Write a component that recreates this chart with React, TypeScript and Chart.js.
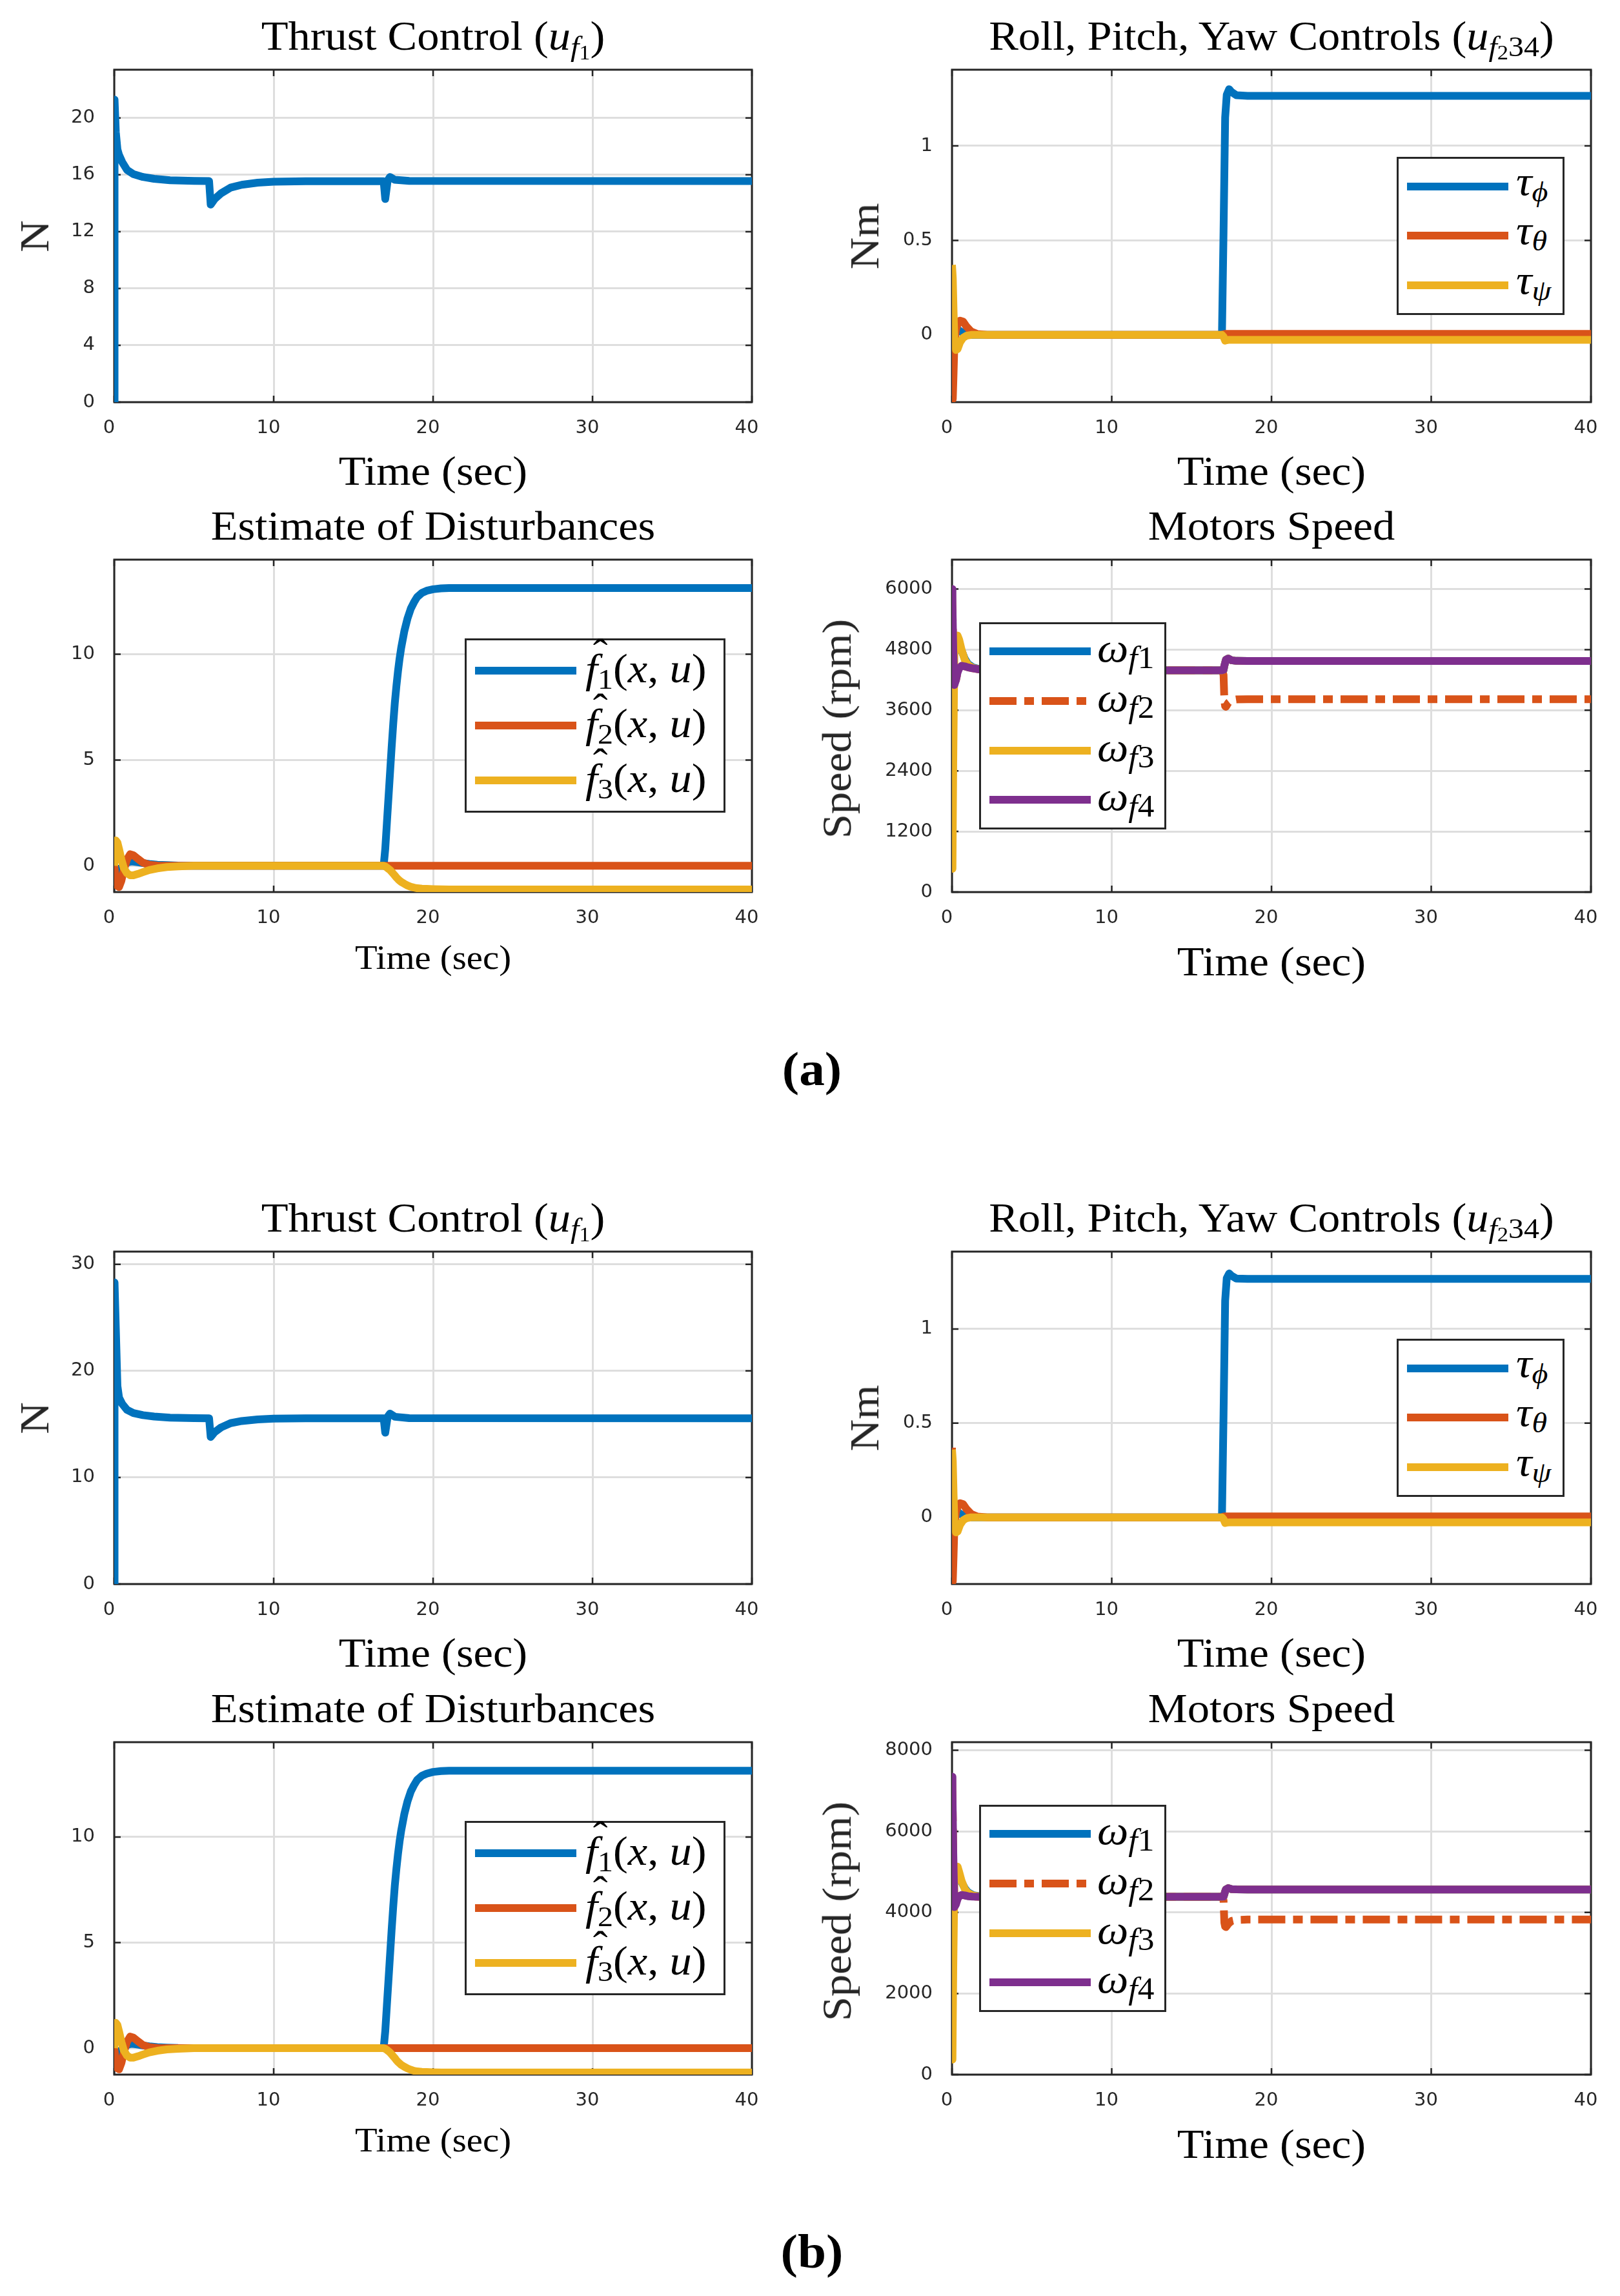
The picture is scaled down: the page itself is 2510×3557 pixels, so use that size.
import React, { useEffect, useRef } from "react";
import { Chart, registerables } from "chart.js";

Chart.register(...registerables);

// ---------- colours / fonts ----------
const BLUE = "#0072BD";
const ORANGE = "#D95319";
const YELLOW = "#EDB120";
const PURPLE = "#7E2F8E";
const AXIS = "#262626";
const GRID = "#dedede";
const SERIF = '"Liberation Serif", "Times New Roman", serif';
const SANS = '"DejaVu Sans", "Liberation Sans", sans-serif';

// ---------- data ----------
const xTicks = [0, 10, 20, 30, 40];

// Thrust control
const tThrust = [0, 0.02, 0.1, 0.2, 0.3, 0.5, 0.8, 1.2, 1.8, 2.5, 3.5, 5, 5.95, 6.05, 6.3, 6.7, 7.3, 8, 9, 10, 12, 16.9, 17.0, 17.15, 17.3, 17.6, 18.5, 40];
const thrustA = [0, 21.3, 19.0, 17.8, 17.4, 16.9, 16.35, 16.05, 15.85, 15.72, 15.62, 15.57, 15.56, 13.9, 14.3, 14.7, 15.1, 15.3, 15.45, 15.52, 15.55, 15.55, 14.3, 15.6, 15.85, 15.65, 15.57, 15.56];
const thrustB = [0, 28.3, 24.0, 18.6, 17.5, 16.9, 16.35, 16.05, 15.85, 15.72, 15.62, 15.57, 15.56, 13.8, 14.25, 14.7, 15.1, 15.3, 15.45, 15.52, 15.55, 15.55, 14.2, 15.7, 16.0, 15.7, 15.57, 15.56];
const thrustTicksA = [0, 4, 8, 12, 16, 20];
const thrustTicksB = [0, 10, 20, 30];

// Roll / pitch / yaw controls
const tTorque = [0, 0.05, 0.1, 0.15, 0.25, 0.35, 0.5, 0.7, 0.9, 1.2, 1.6, 2.2, 3, 16.9, 17.0, 17.1, 17.2, 17.35, 17.5, 17.8, 18.5, 40];
const tauPhiA = [0, 0, 0.01, 0.02, 0.03, 0.03, 0.02, 0.01, 0.005, 0, 0, 0, 0, 0, 0.55, 1.15, 1.27, 1.3, 1.285, 1.268, 1.265, 1.265];
const tauThetaA = [0.3, -0.34, -0.2, -0.05, 0.03, 0.055, 0.075, 0.07, 0.045, 0.018, 0.004, 0, 0, 0, 0.004, 0.005, 0.005, 0.005, 0.005, 0.005, 0.005, 0.005];
const tauPsiA = [0.37, 0.3, 0.12, -0.02, -0.08, -0.075, -0.04, -0.015, -0.005, 0, 0, 0, 0, 0, -0.01, -0.03, -0.028, -0.026, -0.026, -0.026, -0.026, -0.026];
const tauPhiB = [0, 0, 0.01, 0.02, 0.03, 0.03, 0.02, 0.01, 0.005, 0, 0, 0, 0, 0, 0.55, 1.15, 1.27, 1.295, 1.283, 1.268, 1.266, 1.266];
const tauThetaB = [0.37, -0.34, -0.2, -0.05, 0.03, 0.055, 0.075, 0.07, 0.045, 0.018, 0.004, 0, 0, 0, 0.004, 0.005, 0.005, 0.005, 0.005, 0.005, 0.005, 0.005];
const tauPsiB = [0.36, 0.3, 0.12, -0.02, -0.08, -0.075, -0.04, -0.015, -0.005, 0, 0, 0, 0, 0, -0.01, -0.03, -0.028, -0.027, -0.027, -0.027, -0.027, -0.027];
const torqueTicks = [0, 0.5, 1];

// Estimate of disturbances
const tDist = [0, 0.1, 0.2, 0.3, 0.45, 0.6, 0.8, 1.0, 1.2, 1.5, 1.8, 2.2, 2.7, 3.3, 4, 5, 16.9, 17.0, 17.1, 17.2, 17.3, 17.4, 17.5, 17.6, 17.7, 17.8, 17.9, 18.0, 18.2, 18.4, 18.6, 18.8, 19.0, 19.3, 19.6, 20, 20.5, 21, 22, 40];
const f1A = [0, -0.3, -0.45, -0.35, -0.1, 0.05, 0.15, 0.2, 0.2, 0.17, 0.13, 0.09, 0.05, 0.03, 0.01, 0, 0, 0.8, 2.0, 3.2, 4.4, 5.6, 6.7, 7.7, 8.5, 9.2, 9.8, 10.3, 11.1, 11.7, 12.15, 12.45, 12.7, 12.9, 13.0, 13.07, 13.11, 13.13, 13.13, 13.13];
const f2A = [0, -0.6, -0.95, -1.0, -0.7, -0.2, 0.3, 0.55, 0.5, 0.32, 0.15, 0.05, 0.01, 0, 0, 0, 0, 0, 0, 0, 0, 0, 0, 0, 0, 0, 0, 0, 0, 0, 0, 0, 0, 0, 0, 0, 0, 0, 0, 0];
const f3A = [0, 1.2, 1.1, 0.8, 0.3, -0.1, -0.35, -0.45, -0.45, -0.38, -0.3, -0.2, -0.12, -0.06, -0.03, 0, 0, -0.03, -0.08, -0.14, -0.2, -0.28, -0.37, -0.46, -0.55, -0.63, -0.7, -0.76, -0.85, -0.93, -0.99, -1.03, -1.06, -1.08, -1.09, -1.1, -1.11, -1.12, -1.12, -1.12];
const f1B = [0, -0.3, -0.45, -0.35, -0.1, 0.05, 0.15, 0.2, 0.2, 0.17, 0.13, 0.09, 0.05, 0.03, 0.01, 0, 0, 0.8, 2.0, 3.2, 4.4, 5.6, 6.7, 7.7, 8.5, 9.2, 9.8, 10.3, 11.1, 11.7, 12.15, 12.45, 12.7, 12.9, 13.0, 13.08, 13.12, 13.14, 13.14, 13.14];
const f2B = [0, -0.6, -0.95, -1.0, -0.7, -0.2, 0.3, 0.55, 0.5, 0.32, 0.15, 0.05, 0.01, 0, 0, 0, 0, 0, 0, 0, 0, 0, 0, 0, 0, 0, 0, 0, 0, 0, 0, 0, 0, 0, 0, 0, 0, 0, 0, 0];
const f3B = [0, 1.2, 1.1, 0.8, 0.3, -0.1, -0.35, -0.45, -0.45, -0.38, -0.3, -0.2, -0.12, -0.06, -0.03, 0, 0, -0.03, -0.08, -0.14, -0.21, -0.29, -0.38, -0.47, -0.57, -0.65, -0.72, -0.79, -0.88, -0.96, -1.02, -1.07, -1.1, -1.12, -1.13, -1.14, -1.15, -1.15, -1.15, -1.15];
const distTicks = [0, 5, 10];

// Motors speed
const tMotor = [0, 0.03, 0.08, 0.15, 0.25, 0.35, 0.45, 0.6, 0.8, 1.0, 1.3, 1.7, 2.2, 3, 5, 16.9, 17.0, 17.05, 17.1, 17.15, 17.3, 17.5, 17.8, 18.5, 40];
const w1A = [4350, 4500, 4700, 4850, 4950, 4980, 4920, 4780, 4620, 4520, 4450, 4415, 4400, 4395, 4392, 4392, 4400, 4480, 4540, 4600, 4625, 4590, 4578, 4575, 4575];
const w2A = [5900, 5600, 4800, 4150, 4200, 4350, 4430, 4480, 4470, 4450, 4430, 4410, 4400, 4395, 4392, 4392, 4300, 3800, 3680, 3670, 3750, 3800, 3815, 3820, 3820];
const w3A = [4300, 460, 2600, 4700, 5000, 5080, 5000, 4800, 4600, 4500, 4440, 4410, 4400, 4395, 4392, 4392, 4400, 4480, 4540, 4600, 4625, 4590, 4578, 4575, 4575];
const w4A = [6000, 5700, 4800, 4100, 4200, 4350, 4430, 4480, 4470, 4450, 4430, 4410, 4400, 4395, 4392, 4392, 4400, 4480, 4540, 4600, 4625, 4590, 4578, 4575, 4575];
const w1B = [4000, 4300, 4650, 4850, 4950, 4980, 4900, 4750, 4600, 4500, 4430, 4400, 4388, 4385, 4385, 4385, 4390, 4450, 4520, 4570, 4600, 4575, 4568, 4566, 4566];
const w2B = [7350, 6900, 5400, 4150, 4200, 4330, 4400, 4430, 4420, 4400, 4390, 4386, 4385, 4385, 4385, 4385, 4300, 3750, 3650, 3640, 3720, 3790, 3815, 3824, 3824];
const w3B = [4200, 370, 2600, 4700, 5050, 5130, 5000, 4780, 4580, 4480, 4420, 4395, 4387, 4385, 4385, 4385, 4390, 4450, 4520, 4570, 4600, 4575, 4568, 4566, 4566];
const w4B = [7350, 7000, 5500, 4130, 4200, 4330, 4400, 4430, 4420, 4400, 4390, 4386, 4385, 4385, 4385, 4385, 4390, 4450, 4520, 4570, 4600, 4575, 4568, 4566, 4566];
const motorTicksA = [0, 1200, 2400, 3600, 4800, 6000];
const motorTicksB = [0, 2000, 4000, 6000, 8000];

const DASH_DOT = [42, 12, 15, 12];

// ---------- layout ----------
const LX = 177, LW = 988, RX = 1475, RW = 990;
const H1 = 515, H2 = 515;
const A1 = 108, A2 = 867, B1 = 1939, B2 = 2699;
const YW = 170, PT = 70, PR = 80, XH = 80;
const FS = 64;
const SX = 1.07;
const LINE_W = 12;
const TICK_FS = 29;

type Series = { t: number[]; v: number[]; color: string; dash?: number[] };
type PanelSpec = {
  left: number; top: number; w: number; h: number;
  yMin: number; yMax: number; yTicks: number[];
  series: Series[];
};

const boxPlugin = {
  id: "matlabBox",
  beforeDatasetsDraw(chart: any) {
    const { ctx, chartArea: a, scales } = chart;
    const L = 10;
    ctx.save();
    ctx.strokeStyle = AXIS;
    ctx.lineWidth = 2.5;
    ctx.beginPath();
    scales.x.ticks.forEach((tk: any) => {
      const px = scales.x.getPixelForValue(tk.value);
      ctx.moveTo(px, a.bottom); ctx.lineTo(px, a.bottom - L);
      ctx.moveTo(px, a.top); ctx.lineTo(px, a.top + L);
    });
    scales.y.ticks.forEach((tk: any) => {
      const py = scales.y.getPixelForValue(tk.value);
      ctx.moveTo(a.left, py); ctx.lineTo(a.left + L, py);
      ctx.moveTo(a.right, py); ctx.lineTo(a.right - L, py);
    });
    ctx.stroke();
    ctx.lineWidth = 3;
    ctx.strokeRect(a.left, a.top, a.right - a.left, a.bottom - a.top);
    ctx.restore();
  },
};

function PlotPanel({ spec }: { spec: PanelSpec }) {
  const ref = useRef<HTMLCanvasElement | null>(null);
  const W = YW + spec.w + PR;
  const H = PT + spec.h + XH;
  useEffect(() => {
    const n = spec.series.length;
    const chart = new Chart(ref.current as HTMLCanvasElement, {
      type: "line",
      data: {
        datasets: spec.series.map((s, i) => ({
          data: s.t.map((x, j) => ({ x, y: s.v[j] })),
          borderColor: s.color,
          backgroundColor: s.color,
          borderWidth: LINE_W,
          borderDash: s.dash || [],
          borderCapStyle: "butt",
          borderJoinStyle: "round",
          pointRadius: 0,
          tension: 0,
          fill: false,
          order: n - 1 - i,
        })),
      } as any,
      options: {
        responsive: false,
        animation: false,
        events: [],
        layout: { padding: { left: 0, top: PT, right: PR, bottom: 0 } },
        plugins: { legend: { display: false }, tooltip: { enabled: false } },
        scales: {
          x: {
            type: "linear",
            min: 0,
            max: 40,
            afterFit: (s: any) => { s.height = XH; },
            afterBuildTicks: (s: any) => { s.ticks = xTicks.map((v) => ({ value: v })); },
            ticks: {
              font: { family: SANS, size: TICK_FS },
              color: AXIS,
              padding: 23,
              labelOffset: -8,
              maxRotation: 0,
              autoSkip: false,
              callback: (v: any) => String(v),
            },
            grid: { color: GRID, lineWidth: 3, drawTicks: false },
            border: { display: false },
          },
          y: {
            type: "linear",
            min: spec.yMin,
            max: spec.yMax,
            afterFit: (s: any) => { s.width = YW; },
            afterBuildTicks: (s: any) => { s.ticks = spec.yTicks.map((v) => ({ value: v })); },
            ticks: {
              font: { family: SANS, size: TICK_FS },
              color: AXIS,
              padding: 30,
              autoSkip: false,
              callback: (v: any) => String(v),
            },
            grid: { color: GRID, lineWidth: 3, drawTicks: false },
            border: { display: false },
          },
        },
      } as any,
      plugins: [boxPlugin],
    });
    return () => chart.destroy();
  }, []);
  return (
    <canvas
      ref={ref}
      width={W}
      height={H}
      style={{ position: "absolute", left: spec.left - YW, top: spec.top - PT, width: W, height: H }}
    />
  );
}

// ---------- text helpers ----------
function Sub({ children, s = 0.7, d = 0.15 }: any) {
  return <span style={{ fontSize: `${s}em`, position: "relative", top: `${d / s}em` }}>{children}</span>;
}

function Txt({ x, y, size = FS, anchor = "middle", weight = 400, children }: any) {
  return (
    <div
      style={{
        position: "absolute",
        left: x,
        top: y - 0.8375 * size,
        fontFamily: SERIF,
        fontSize: size,
        lineHeight: 1,
        whiteSpace: "nowrap",
        fontWeight: weight,
        color: "#000",
        transformOrigin: anchor === "middle" ? "50% 50%" : "0% 50%",
        transform: anchor === "middle" ? `translateX(-50%) scaleX(${SX})` : `scaleX(${SX})`,
      }}
    >
      {children}
    </div>
  );
}

function VTxt({ x, y, size = FS, children }: any) {
  return (
    <div style={{ position: "absolute", left: x, top: y, width: 0, height: 0, transform: "rotate(-90deg)" }}>
      <div
        style={{
          position: "absolute",
          left: 0,
          top: -0.8375 * size,
          transform: `translateX(-50%) scaleX(${SX})`,
          fontFamily: SERIF,
          fontSize: size,
          lineHeight: 1,
          whiteSpace: "nowrap",
          color: AXIS,
        }}
      >
        {children}
      </div>
    </div>
  );
}

function Hat({ children }: any) {
  return (
    <span style={{ position: "relative" }}>
      <i>{children}</i>
      <span style={{ position: "absolute", left: "0.17em", top: "-0.3em", fontStyle: "normal" }}>ˆ</span>
    </span>
  );
}

type LegendItem = { color: string; dash?: boolean; label: any };

function Legend({ x, y, w, h, x1, x2, tx, rows, baseOff, items }: any) {
  return (
    <>
      <div
        style={{
          position: "absolute",
          left: x,
          top: y,
          width: w,
          height: h,
          boxSizing: "border-box",
          border: `3px solid ${AXIS}`,
          background: "#fff",
        }}
      />
      {items.map((it: LegendItem, i: number) => (
        <React.Fragment key={i}>
          <div
            style={{
              position: "absolute",
              left: x1,
              top: rows[i] - LINE_W / 2,
              width: x2 - x1,
              height: LINE_W,
              background: it.dash
                ? `repeating-linear-gradient(to right, ${it.color} 0px, ${it.color} 42px, transparent 42px, transparent 54px, ${it.color} 54px, ${it.color} 69px, transparent 69px, transparent 81px)`
                : it.color,
            }}
          />
          <Txt x={tx} y={rows[i] + baseOff} anchor="start">{it.label}</Txt>
        </React.Fragment>
      ))}
    </>
  );
}

const titleThrust = (
  <>Thrust Control (<i>u</i><Sub><i>f</i><Sub s={0.72} d={0.12}>1</Sub></Sub>)</>
);
const titleTorque = (
  <>Roll, Pitch, Yaw Controls (<i>u</i><Sub><i>f</i><Sub s={0.72} d={0.12}>2</Sub>34</Sub>)</>
);
const tauItems: LegendItem[] = [
  { color: BLUE, label: <><i>τ</i><Sub><i>ϕ</i></Sub></> },
  { color: ORANGE, label: <><i>τ</i><Sub><i>θ</i></Sub></> },
  { color: YELLOW, label: <><i>τ</i><Sub><i>ψ</i></Sub></> },
];
const fItems: LegendItem[] = [1, 2, 3].map((k, i) => ({
  color: [BLUE, ORANGE, YELLOW][i],
  label: <><Hat>f</Hat><Sub>{k}</Sub>(<i>x</i>, <i>u</i>)</>,
}));
const wItems: LegendItem[] = [1, 2, 3, 4].map((k, i) => ({
  color: [BLUE, ORANGE, YELLOW, PURPLE][i],
  dash: k === 2,
  label: <><i>ω</i><Sub s={0.75}><i>f</i>{String(k)}</Sub></>,
}));

function Figure({ r1, r2, tag, tagY, thrust, thrustMax, thrustTicks, torque, torqueMin, torqueMax, dist, distMin, distMax, motor, motorMax, motorTicks }: any) {
  const panels: PanelSpec[] = [
    { left: LX, top: r1, w: LW, h: H1, yMin: 0, yMax: thrustMax, yTicks: thrustTicks, series: [{ t: tThrust, v: thrust, color: BLUE }] },
    {
      left: RX, top: r1, w: RW, h: H1, yMin: torqueMin, yMax: torqueMax, yTicks: torqueTicks,
      series: [
        { t: tTorque, v: torque[0], color: BLUE },
        { t: tTorque, v: torque[1], color: ORANGE },
        { t: tTorque, v: torque[2], color: YELLOW },
      ],
    },
    {
      left: LX, top: r2, w: LW, h: H2, yMin: distMin, yMax: distMax, yTicks: distTicks,
      series: [
        { t: tDist, v: dist[0], color: BLUE },
        { t: tDist, v: dist[1], color: ORANGE },
        { t: tDist, v: dist[2], color: YELLOW },
      ],
    },
    {
      left: RX, top: r2, w: RW, h: H2, yMin: 0, yMax: motorMax, yTicks: motorTicks,
      series: [
        { t: tMotor, v: motor[0], color: BLUE },
        { t: tMotor, v: motor[1], color: ORANGE, dash: DASH_DOT },
        { t: tMotor, v: motor[2], color: YELLOW },
        { t: tMotor, v: motor[3], color: PURPLE },
      ],
    },
  ];
  const cL = LX + LW / 2;
  const cR = RX + RW / 2;
  return (
    <>
      {panels.map((p, i) => <PlotPanel key={i} spec={p} />)}
      <Txt x={cL} y={r1 - 30}>{titleThrust}</Txt>
      <Txt x={cR} y={r1 - 30}>{titleTorque}</Txt>
      <Txt x={cL} y={r2 - 30}>Estimate of Disturbances</Txt>
      <Txt x={cR} y={r2 - 30}>Motors Speed</Txt>
      <Txt x={cL} y={r1 + H1 + 129}>Time (sec)</Txt>
      <Txt x={cR} y={r1 + H1 + 129}>Time (sec)</Txt>
      <Txt x={cL} y={r2 + H2 + 119} size={53}>Time (sec)</Txt>
      <Txt x={cR} y={r2 + H2 + 130}>Time (sec)</Txt>
      <VTxt x={76} y={r1 + H1 / 2}>N</VTxt>
      <VTxt x={1362} y={r1 + H1 / 2}>Nm</VTxt>
      <VTxt x={1319} y={r2 + 262}>Speed (rpm)</VTxt>
      <Legend
        x={RX + 689} y={r1 + 135} w={260} h={245}
        x1={RX + 705} x2={RX + 862} tx={RX + 874}
        rows={[r1 + 181, r1 + 257, r1 + 334]} baseOff={14} items={tauItems}
      />
      <Legend
        x={LX + 543} y={r2 + 122} w={404} h={270}
        x1={LX + 559} x2={LX + 716} tx={LX + 730}
        rows={[r2 + 172, r2 + 257, r2 + 342]} baseOff={19} items={fItems}
      />
      <Legend
        x={RX + 42} y={r2 + 97} w={290} h={321}
        x1={RX + 58} x2={RX + 215} tx={RX + 225}
        rows={[r2 + 142, r2 + 219, r2 + 296, r2 + 372]} baseOff={17} items={wItems}
      />
      <Txt x={1258} y={tagY} size={74} weight={700}>({tag})</Txt>
    </>
  );
}

export default function App() {
  return (
    <div style={{ position: "absolute", left: 0, top: 0, width: 2510, height: 3557, background: "#fff", overflow: "hidden" }}>
      <Figure
        r1={A1} r2={A2} tag="a" tagY={1681}
        thrust={thrustA} thrustMax={23.4} thrustTicks={thrustTicksA}
        torque={[tauPhiA, tauThetaA, tauPsiA]} torqueMin={-0.356} torqueMax={1.403}
        dist={[f1A, f2A, f3A]} distMin={-1.24} distMax={14.47}
        motor={[w1A, w2A, w3A, w4A]} motorMax={6583} motorTicks={motorTicksA}
      />
      <Figure
        r1={B1} r2={B2} tag="b" tagY={3513}
        thrust={thrustB} thrustMax={31.2} thrustTicks={thrustTicksB}
        torque={[tauPhiB, tauThetaB, tauPsiB]} torqueMin={-0.354} torqueMax={1.411}
        dist={[f1B, f2B, f3B]} distMin={-1.25} distMax={14.49}
        motor={[w1B, w2B, w3B, w4B]} motorMax={8200} motorTicks={motorTicksB}
      />
    </div>
  );
}
